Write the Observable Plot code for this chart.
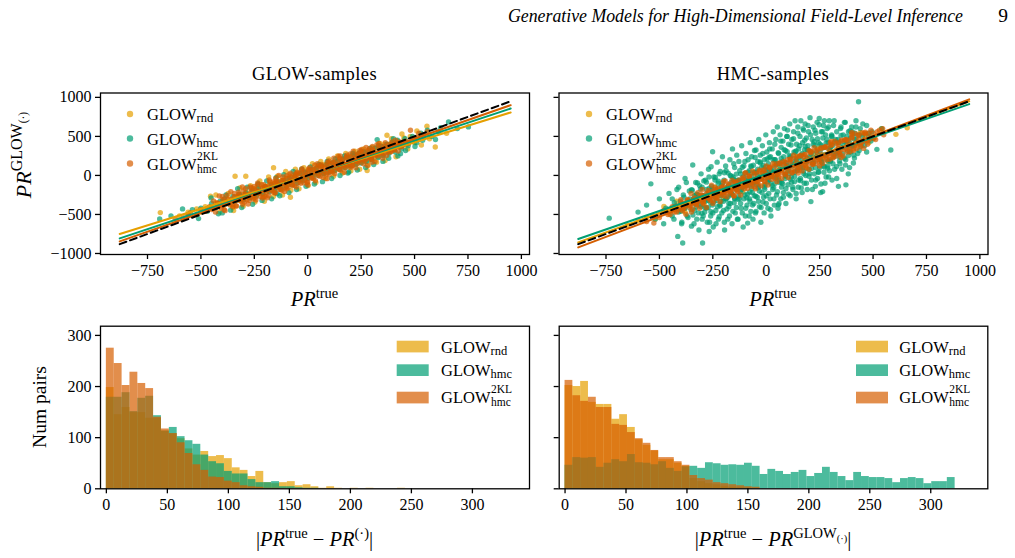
<!DOCTYPE html>
<html><head><meta charset="utf-8">
<script src="https://cdn.jsdelivr.net/npm/d3@7"></script>
<script src="https://cdn.jsdelivr.net/npm/@observablehq/plot@0.6"></script>
<style>
body{margin:0;background:#fff;}
#wrap{position:relative;width:1015px;height:558px;overflow:hidden;background:#fff;}
</style></head>
<body><div id="wrap"></div>
<script>
// ---------------- DATA ----------------
const seriesNames = ["GLOW_rnd","GLOW_hmc","GLOW_hmc^2KL"];
const colors = ["#E69F00","#009E73","#D55E00"];
const xTicksTop = [-750,-500,-250,0,250,500,750,1000];
const yTicksTop = [-1000,-500,0,500,1000];
const xTicksBot = [0,50,100,150,200,250,300];
const yTicksBot = [0,100,200,300];

// scatter: GLOW-samples panel  [PR_true, PR_GLOW]
const glowRnd = [[-690,-476],[-600,-520],[-560,-470],[-520,-430],[-500,-470],[-480,-400],[-455,-266],[-450,-420],[-430,-350],[-420,-400],[-400,-330],[-390,-380],[-370,-300],[-360,-340],[-347,-450],[-340,-10],[-330,-270],[-320,-320],[-310,-250],[-300,-300],[-290,-10],[-285,-220],[-270,-280],[-260,-200],[-250,-250],[-240,-160],[-230,-230],[-220,-170],[-210,-240],[-200,-140],[-190,-200],[-180,-120],[-170,-190],[-160,99],[-155,-100],[-150,-160],[-140,-80],[-130,-150],[-120,-60],[-110,-130],[-100,-40],[-90,-110],[-81,-279],[-80,-20],[-70,-90],[-60,10],[-50,-70],[-40,30],[-30,-50],[-20,40],[-10,-30],[0,60],[10,-10],[20,80],[30,10],[40,100],[50,20],[60,120],[70,30],[80,140],[90,40],[100,150],[110,60],[120,170],[130,70],[140,190],[150,90],[160,200],[170,100],[180,230],[190,120],[200,250],[210,130],[220,270],[230,150],[240,280],[250,170],[260,300],[270,180],[278,64],[280,310],[290,200],[300,330],[310,220],[320,350],[330,240],[340,380],[350,260],[360,400],[371,515],[380,300],[390,420],[400,330],[420,440],[430,360],[450,480],[460,390],[480,500],[500,420],[520,460],[540,520],[558,631],[570,470],[597,364],[620,560],[650,540],
 [-430,-250],[-412,-470],[-372,-230],[-351,-410],[-318,-160],[-302,-395],[-268,-130],[-247,-340],[-224,-70],[-203,-330],[-183,-20],[-161,-270],[-142,-10],[-118,-250],[-103,50],[-79,-190],[-58,80],[-41,-170],[-18,100],[2,-130],[22,150],[38,-90],[61,180],[83,-40],[98,210],[121,-10],[139,250],[163,30],[178,280],[202,60],[221,310],[243,80],[262,340],[283,130],[301,360],[322,170],[338,410],[362,190],[392,470],[413,240],[441,530],[468,340],[511,570],[532,390],[561,500]];
const glowHmc = [[-693,-557],[-640,-520],[-586,-429],[-560,-500],[-540,-440],[-511,-553],[-500,-420],[-470,-460],[-450,-360],[-430,-410],[-410,-330],[-400,-480],[-390,-300],[-370,-360],[-350,-270],[-340,-330],[-320,-240],[-300,-310],[-290,-220],[-270,-290],[-260,-190],[-240,-260],[-230,-170],[-210,-230],[-200,-150],[-180,-210],[-170,-120],[-155,-190],[-143,-236],[-140,-90],[-125,-170],[-110,-60],[-100,-140],[-85,-40],[-75,-120],[-60,-10],[-50,-100],[-35,20],[-25,-70],[-10,40],[0,-40],[15,70],[25,-20],[40,90],[50,0],[65,120],[75,20],[90,140],[100,40],[115,160],[125,60],[140,180],[150,80],[165,210],[175,100],[190,230],[192,43],[200,120],[215,260],[225,140],[240,280],[250,160],[265,300],[275,180],[290,320],[300,200],[315,350],[325,459],[330,230],[345,370],[355,250],[370,400],[380,280],[395,420],[410,300],[420,450],[434,279],[440,340],[455,470],[470,380],[490,500],[510,420],[530,540],[560,580],[580,500],[610,560],[659,686],[700,600],[752,622],
 [-452,-290],[-418,-490],[-383,-250],[-361,-445],[-328,-170],[-309,-410],[-283,-150],[-258,-370],[-233,-110],[-214,-320],[-192,-70],[-169,-300],[-148,-30],[-131,-260],[-112,10],[-88,-220],[-68,50],[-52,-180],[-29,80],[-8,-140],[12,110],[31,-110],[52,140],[69,-80],[91,180],[112,-40],[129,210],[151,0],[172,250],[188,30],[211,280],[232,70],[249,310],[271,100],[292,350],[309,140],[331,380],[352,180],[379,220],[401,470],[422,250],[458,320],[502,370],[538,450],[598,460],[622,610]];
const glowKL = [[-620,-560],[-580,-540],[-560,-505],[-550,-480],[-520,-500],[-500,-440],[-480,-460],[-470,-425],[-460,-400],[-440,-420],[-420,-360],[-410,-375],[-400,-390],[-385,-330],[-370,-350],[-355,-300],[-350,-320],[-350,-400],[-340,-330],[-325,-270],[-310,-300],[-300,-270],[-300,-200],[-295,-240],[-280,-270],[-270,-245],[-265,-210],[-250,-250],[-250,-140],[-240,-190],[-235,-210],[-228,-225],[-215,-160],[-205,-200],[-200,-180],[-200,-270],[-195,-140],[-185,-180],[-175,-120],[-170,-150],[-165,-160],[-155,-100],[-150,-40],[-145,-145],[-140,-125],[-135,-80],[-125,-125],[-115,-60],[-110,-95],[-105,-105],[-100,-170],[-95,-40],[-85,-85],[-80,-70],[-75,-20],[-65,-70],[-55,0],[-50,-40],[-50,40],[-45,-50],[-35,20],[-25,-30],[-20,-15],[-15,40],[-5,-10],[0,-80],[5,60],[10,10],[15,10],[25,70],[35,25],[40,35],[45,90],[50,120],[55,40],[65,110],[70,65],[75,55],[85,130],[95,70],[100,90],[100,10],[105,150],[115,85],[125,165],[130,120],[135,100],[145,185],[150,220],[155,115],[160,145],[165,200],[175,130],[185,220],[190,170],[195,150],[200,100],[205,240],[215,165],[220,200],[225,260],[235,185],[245,275],[250,230],[250,310],[255,200],[265,300],[275,215],[280,255],[285,320],[295,235],[300,170],[305,330],[310,285],[315,250],[330,350],[340,310],[345,280],[360,370],[370,340],[375,300],[390,400],[400,365],[405,330],[420,420],[430,395],[440,380],[460,440],[481,579],[500,470],[520,540],[540,500],[560,560],
 [-400,-270],[-391,-440],[-376,-300],[-364,-380],[-344,-230],[-336,-390],[-321,-240],[-313,-330],[-304,-370],[-291,-170],[-286,-310],[-273,-320],[-263,-160],[-254,-300],[-246,-280],[-233,-120],[-223,-270],[-212,-290],[-207,-120],[-193,-220],[-183,-260],[-177,-80],[-163,-210],[-153,-220],[-147,-70],[-133,-180],[-121,-190],[-117,-20],[-103,-150],[-93,-160],[-87,10],[-73,-120],[-62,-130],[-57,20],[-43,-90],[-33,-100],[-27,70],[-13,-60],[-3,-90],[3,80],[18,-30],[27,-40],[33,130],[48,0],[58,-10],[63,140],[77,30],[88,20],[93,170],[108,60],[117,50],[122,220],[138,90],[147,80],[152,250],[168,120],[177,100],[183,260],[198,150],[208,130],[213,310],[228,180],[237,160],[243,320],[258,210],[268,190],[273,360],[288,240],[297,220],[303,370],[318,270],[328,250],[333,410],[348,300],[357,280],[363,420],[378,330],[391,310],[411,450],[424,370],[451,400],[472,410],[489,440],[510,490],
 [-450,-436],[-441,-328],[-432,-470],[-423,-352],[-414,-264],[-405,-416],[-396,-308],[-387,-451],[-378,-253],[-369,-345],[-360,-207],[-351,-379],[-342,-271],[-333,-393],[-324,-215],[-315,-307],[-306,-149],[-297,-341],[-288,-243],[-279,-366],[-270,-148],[-261,-280],[-252,-172],[-243,-314],[-234,-96],[-225,-218],[-216,-120],[-207,-272],[-198,-144],[-189,-286],[-180,-58],[-171,-190],[-162,-83],[-153,-225],[-144,-107],[-135,1],[-126,-181],[-117,-63],[-108,-205],[-99,-7],[-90,-109],[-81,29],[-72,-123],[-63,-25],[-54,-148],[-45,30],[-36,-52],[-27,86],[-18,-96],[-9,12],[0,-120],[9,98],[18,-34],[27,74],[36,-68],[45,150],[54,28],[63,125],[72,-27],[81,101],[90,-41],[99,187],[108,55],[117,163],[126,21],[135,139],[144,247],[153,65],[162,183],[171,40],[180,238],[189,136],[198,274],[207,122],[216,220],[225,98],[234,276],[243,194],[252,332],[261,150],[270,258],[279,126],[288,343],[297,211],[306,319],[315,177],[324,395],[333,273],[342,371],[351,219],[360,347],[369,255],[378,393],[387,301],[396,428],[405,326],[414,404],[423,312],[432,430],[441,368],[450,426]];

// scatter: HMC-samples panel
const hmcRnd = [[-650,-640],[-600,-580],[-560,-540],[-520,-560],[-479,-398],[-460,-470],[-420,-400],[-380,-410],[-340,-320],[-300,-330],[-260,-230],[-220,-260],[-180,-140],[-140,-170],[-100,-60],[-60,-90],[-20,30],[20,-10],[60,110],[100,70],[140,190],[180,140],[220,280],[260,220],[300,360],[340,300],[380,440],[420,380],[460,520],[500,470],[540,600],[607,526],[660,610],
 [-420,-330],[-380,-470],[-330,-250],[-290,-380],[-240,-150],[-200,-300],[-150,-60],[-110,-210],[-60,40],[-10,-120],[40,150],[90,-10],[140,250],[190,90],[240,350],[290,180],[340,420],[390,300],[440,550],[480,420]];
const hmcHmc = [[-735,-547],[-600,-470],[-560,-380],[-540,-108],[-520,-560],[-500,-300],[-480,-620],[-470,-420],[-455,-230],[-440,-520],[-430,-350],[-414,-781],[-410,-150],[-400,-460],[-395,-600],[-391,-866],[-385,-280],[-380,-40],[-370,-520],[-365,-380],[-360,-200],[-350,-650],[-344,134],[-340,-300],[-335,-450],[-330,-90],[-325,-560],[-320,-250],[-315,-700],[-310,-380],[-305,20],[-300,-150],[-298,-866],[-295,-520],[-290,-320],[-285,-60],[-280,-420],[-275,-240],[-270,80],[-267,-718],[-265,-600],[-260,-350],[-258,112],[-255,-180],[-251,304],[-250,-480],[-245,-20],[-240,-280],[-235,-620],[-230,170],[-228,-400],[-225,-100],[-220,-530],[-215,50],[-212,-330],[-210,-220],[-205,240],[-200,-450],[-198,-60],[-195,-700],[-190,120],[-188,-300],[-185,-160],[-180,-560],[-178,30],[-175,-400],[-170,200],[-168,-250],[-165,-90],[-160,-620],[-158,340],[-155,-20],[-150,-350],[-148,100],[-145,-480],[-140,-180],[-138,260],[-135,-560],[-130,-60],[-128,180],[-125,-300],[-120,20],[-118,-420],[-115,380],[-110,-150],[-108,-660],[-105,120],[-100,-250],[-98,-520],[-95,280],[-92,-40],[-90,-380],[-87,-611],[-85,200],[-82,-120],[-80,60],[-78,-300],[-75,420],[-72,-460],[-70,-10],[-68,240],[-65,-220],[-62,-560],[-60,130],[-58,-360],[-55,320],[-52,-80],[-50,-480],[-48,326],[-45,40],[-42,-280],[-40,180],[-38,-160],[-35,460],[-32,-400],[-30,-20],[-28,260],[-25,-600],[-22,100],[-20,-220],[-18,380],[-15,-340],[-12,10],[-10,-480],[-8,200],[-5,-120],[-2,520],[0,-260],[3,300],[5,60],[8,-420],[10,150],[12,-60],[15,420],[18,-300],[20,240],[22,-520],[25,-10],[28,340],[30,-180],[33,560],[35,90],[38,-380],[40,200],[42,-100],[45,460],[48,-250],[50,30],[52,620],[55,-420],[57,-377],[58,280],[60,-60],[62,150],[65,520],[68,-300],[70,360],[72,-150],[75,80],[78,440],[80,-220],[82,240],[85,600],[88,-40],[90,320],[92,-360],[95,160],[98,500],[100,581],[102,-120],[105,400],[108,20],[110,660],[112,-260],[115,250],[118,-20],[120,460],[122,120],[125,-180],[128,560],[130,300],[132,-80],[135,700],[138,200],[140,-300],[142,400],[145,60],[148,620],[150,-150],[152,340],[155,150],[158,500],[160,-40],[162,700],[165,260],[168,-220],[170,420],[172,100],[175,580],[178,-100],[180,330],[182,660],[185,0],[188,480],[190,220],[192,-180],[195,380],[198,560],[200,80],[205,740],[209,-335],[210,300],[212,-60],[215,460],[218,160],[220,620],[225,20],[228,380],[230,-140],[232,540],[235,240],[238,680],[240,-40],[245,420],[248,730],[250,100],[252,300],[255,-220],[258,560],[260,180],[264,-207],[265,480],[268,640],[270,40],[272,360],[275,-100],[278,520],[280,260],[285,600],[288,120],[290,420],[292,-20],[295,700],[298,320],[300,180],[305,500],[308,-60],[310,380],[315,640],[318,240],[320,80],[325,460],[330,560],[335,300],[338,-140],[340,420],[345,150],[350,620],[355,360],[360,520],[365,220],[370,680],[373,-121],[375,440],[380,320],[385,560],[390,100],[395,480],[400,620],[405,380],[410,260],[415,540],[420,700],[425,420],[432,943],[435,320],[440,600],[450,500],[460,380],[470,640],[480,540],[490,440],[500,480],[518,334],[540,600],[583,326],
 [-440,-300],[-432,-560],[-425,-390],[-418,-180],[-410,-470],[-402,-330],[-396,-620],[-388,-250],[-380,-420],[-374,-90],[-366,-540],[-358,-300],[-352,-440],[-346,-190],[-338,-620],[-332,-360],[-326,-240],[-318,-480],[-312,-130],[-306,-400],[-300,-560],
 [-296,-260],[-292,-70],[-288,-470],[-284,-330],[-280,-180],[-276,-600],[-272,-410],[-268,-20],[-264,-280],[-260,-520],[-256,-140],[-252,-380],[-248,-660],[-244,-230],[-240,-60],[-236,-450],[-232,-320],[-228,-170],[-224,-560],[-220,20],[-216,-390],[-212,-260],[-208,-480],[-204,-100],[-200,-330],[-196,-600],[-192,-200],[-188,60],[-184,-430],[-180,-280],[-176,-130],[-172,-520],[-168,-360],[-164,-10],[-160,-240],[-156,-460],[-152,150],[-148,-300],[-144,-150],[-140,-410],[-136,-60],[-132,-560],[-128,-260],[-124,60],[-120,-360],[-116,-180],[-112,-480],[-108,-20],[-104,-300],[-100,180],
 [-96,-420],[-92,-130],[-88,-240],[-84,40],[-80,-520],[-76,-330],[-72,120],[-68,-170],[-64,-380],[-60,-60],[-56,-260],[-52,230],[-48,-460],[-44,-120],[-40,80],[-36,-330],[-32,-200],[-28,160],[-24,-410],[-20,-40],[-16,280],[-12,-280],[-8,-150],[-4,110],[0,-360],[4,210],[8,-80],[12,-230],[16,340],[20,-440],[24,60],[28,-130],[32,200],[36,-300],[40,400],[44,-30],[48,140],[52,-210],[56,290],[60,-360],[64,80],[68,440],[72,-90],[76,180],[80,-280],[84,330],[88,20],[92,-170],[96,500],[100,120],
 [104,-240],[108,250],[112,-50],[116,390],[120,160],[124,-150],[128,470],[132,40],[136,300],[140,-230],[144,200],[148,540],[152,-60],[156,380],[160,100],[164,-160],[168,280],[172,600],[176,20],[180,450],[184,180],[188,-100],[192,330],[196,640],[200,-10],[204,240],[208,520],[212,90],[216,-180],[220,400],[224,170],[228,580],[232,-60],[236,300],[240,470],[244,40],[248,650],[252,220],[256,-110],[260,380],[264,560],[268,120],[272,700],[276,270],[280,-20],[284,460],[288,190],[292,620],[296,60],[300,360],
 [306,520],[312,150],[318,700],[324,280],[330,-40],[336,460],[342,240],[348,600],[354,80],[360,380],[366,680],[372,200],[378,500],[384,20],[390,420],[396,300],[402,560],[408,160],[414,460],[420,620],[428,280],[436,520],[444,380],[452,660],[460,440],[470,300],[480,500],[495,560],
 [-350,-183],[-343,-506],[-336,-259],[-329,-403],[-322,-96],[-315,-329],[-308,-173],[-301,-486],[-294,-259],[-287,-413],[-280,-86],[-273,-319],[-266,-163],[-259,-466],[-252,-199],[-245,-343],[-238,-26],[-231,-229],[-224,-73],[-217,-376],[-210,-130],[-203,-243],[-196,34],[-189,-300],[-182,-163],[-175,-356],[-168,0],[-161,-233],[-154,-46],[-147,-290],[-140,17],[-133,-306],[-126,-60],[-119,-203],[-112,104],[-105,-130],[-98,27],[-91,-286],[-84,-60],[-77,-213],[-70,113],[-63,-120],[-56,37],[-49,-267],[-42,0],[-35,-143],[-28,173],[-21,-30],[-14,127],[-7,-177],[0,70],[7,-43],[14,233],[21,-100],[28,37],[35,-157],[42,200],[49,-33],[56,153],[63,-90],[70,217],[77,-107],[84,140],[91,-4],[98,303],[105,70],[112,226],[119,-87],[126,140],[133,-14],[140,313],[147,80],[154,236],[161,-67],[168,200],[175,56],[182,373],[189,170],[196,326],[203,23],[210,270],[217,156],[224,433],[231,99],[238,236],[245,43],[252,399],[259,166],[266,353],[273,109],[280,416],[287,93],[294,339],[301,196],[308,503],[315,269],[322,426],[329,113],[336,339],[343,186],[350,513],[357,279],[364,436],[371,132],[378,399],[385,256],[392,572],[399,369],[406,526],[413,222],[420,469]];
const hmcKL = [[-560,-590],[-530,-520],[-526,-611],[-500,-540],[-500,-500],[-480,-450],[-460,-500],[-450,-455],[-440,-420],[-420,-470],[-400,-370],[-400,-405],[-385,-420],[-370,-330],[-355,-390],[-350,-350],[-350,-470],[-340,-300],[-325,-360],[-310,-270],[-300,-300],[-300,-180],[-295,-330],[-280,-230],[-265,-300],[-260,-255],[-250,-200],[-250,-360],[-238,-280],[-225,-170],[-220,-220],[-212,-250],[-200,-140],[-200,-80],[-188,-220],[-180,-175],[-176,-110],[-164,-200],[-152,-90],[-150,-260],[-140,-180],[-140,-140],[-128,-60],[-116,-150],[-104,-30],[-100,-95],[-100,30],[-92,-130],[-80,0],[-68,-100],[-60,-60],[-56,20],[-50,-170],[-44,-80],[-32,50],[-20,-50],[-20,-15],[-8,70],[0,120],[4,-30],[16,100],[20,25],[28,-10],[40,120],[50,-80],[52,10],[60,60],[64,150],[76,30],[88,170],[100,50],[100,105],[100,200],[112,200],[124,80],[136,220],[140,140],[148,100],[150,30],[160,250],[172,120],[180,185],[184,270],[196,150],[200,320],[208,290],[220,170],[220,220],[232,320],[244,200],[250,120],[256,340],[260,265],[268,220],[280,370],[292,250],[300,300],[300,420],[304,390],[316,280],[328,410],[340,300],[340,345],[350,230],[352,440],[364,330],[376,460],[380,385],[388,350],[400,490],[400,550],[415,390],[420,420],[430,520],[445,420],[460,540],[460,465],[475,450],[490,581],[505,480],[520,560],[550,520],
 [-450,-500],[-440,-400],[-430,-470],[-420,-395],[-410,-440],[-398,-350],[-390,-430],[-378,-380],[-366,-320],[-358,-410],[-346,-360],[-334,-290],[-326,-380],[-314,-330],[-302,-250],[-294,-350],[-282,-290],[-270,-220],[-262,-320],[-250,-260],[-238,-180],[-230,-290],[-218,-230],[-206,-150],[-198,-260],[-186,-200],[-174,-120],[-166,-230],[-154,-170],[-142,-80],[-134,-200],[-122,-140],[-110,-50],[-102,-170],[-90,-110],[-78,-10],[-70,-140],[-58,-80],[-46,30],[-38,-110],[-26,-50],[-14,70],[-6,-80],[6,-20],[18,110],[26,-50],[38,20],[50,150],[58,-20],[70,60],[82,180],[90,10],[102,100],[114,210],[122,40],[134,130],[146,240],[154,70],[166,160],[178,270],[186,100],[198,190],[210,300],[218,140],[230,220],[242,330],[250,170],[262,250],[274,360],[282,200],[294,280],[306,390],[314,240],[326,320],[338,420],[346,270],[358,350],[370,450],[378,300],[390,380],[402,480],[410,340],[422,410],[434,510],[442,370],[454,440],[466,530],[474,400],[486,470],[500,540],[512,460],[530,580],[545,600],
 [-400,-310],[-392,-452],[-384,-354],[-376,-496],[-368,-308],[-360,-380],[-352,-232],[-344,-434],[-336,-326],[-328,-368],[-320,-220],[-312,-422],[-304,-254],[-296,-366],[-288,-268],[-280,-410],[-272,-192],[-264,-294],[-256,-126],[-248,-328],[-240,-150],[-232,-292],[-224,-194],[-216,-336],[-208,-148],[-200,-220],[-192,-72],[-184,-274],[-176,-166],[-168,-208],[-160,-60],[-152,-262],[-144,-94],[-136,-206],[-128,-108],[-120,-250],[-112,-32],[-104,-134],[-96,34],[-88,-168],[-80,-20],[-72,-92],[-64,56],[-56,-146],[-48,-38],[-40,-80],[-32,68],[-24,-134],[-16,34],[-8,-78],[0,20],[8,-122],[16,96],[24,-6],[32,152],[40,-40],[48,58],[56,16],[64,164],[72,-38],[80,130],[88,18],[96,116],[104,-26],[112,172],[120,30],[128,258],[136,56],[144,164],[152,112],[160,260],[168,58],[176,236],[184,124],[192,222],[200,80],[208,308],[216,146],[224,354],[232,152],[240,270],[248,208],[256,356],[264,154],[272,362],[280,250],[288,348],[296,206],[304,434],[312,222],[320,440],[328,248],[336,366],[344,304],[352,452],[360,250],[368,458],[376,346],[384,444],[392,302],[400,530],[408,318],[416,536],[424,344],[432,462],[440,400],[448,548],[456,346],[464,554],[472,442],[480,540]];

// linear fits (evaluated at the two ends of PR_true)
const fitX = [-880, 950];
const glowFits = [[-750, 807], [-807, 858], [-845, 900]];
const hmcFits  = [[-858, 950], [-815, 914], [-922, 974]];

// histograms of |PR_true - PR|  (50 equal bins)
const binWLeft = 6.45, binWRight = 6.4;
const glowRndCounts = [198,145,159,149,149,138,138,113,108,98,78,66,73,63,65,59,41,36,24,34,12,10,12,14,6,8,4,1,4,1,0,1,0,1,0,0,0,1];
const glowHmcCounts = [179,179,188,151,177,181,143,113,120,102,94,87,66,53,49,34,29,29,18,12,12,14,4,4,2,1,1];
const glowKLCounts  = [275,245,202,228,206,196,140,117,108,90,69,47,36,23,22,15,12,6,4,3,1,1];
const hmcRndCounts = [202,200,210,169,165,165,136,145,120,96,85,74,57,57,50,44,20,14,10,8,5,3,2,1];
const hmcHmcCounts = [46,61,60,61,42,50,57,53,67,51,50,47,53,40,34,43,44,40,51,49,46,47,46,50,44,28,38,34,28,32,36,24,30,42,32,24,16,32,24,22,22,20,12,20,22,20,10,14,14,22];
const hmcKLCounts  = [212,182,171,179,159,159,126,124,110,98,89,75,61,61,53,46,26,20,17,12,10,8,6,4,3];

// ---------------- LAYOUT ----------------
const W = 1015, H = 558;
const FONT = "'Liberation Serif', 'DejaVu Serif', serif";
const TL = {l:100, r:529, t:92.5, b:254}, TR = {l:558.5, r:987.5, t:92.5, b:254};
const BL = {l:100, r:529, t:325.7, b:488.3}, BR = {l:558.7, r:987.3, t:325.7, b:488.3};
const fmt = d => d < 0 ? "\u2212" + Math.abs(d) : String(d);
const TICKFS = 16;

function panel(f, xdom, ydom, xt, yt, showY, marks){
  return Plot.plot({
    width: W, height: H,
    marginLeft: f.l, marginRight: W - f.r, marginTop: f.t, marginBottom: H - f.b,
    x: {domain: xdom}, y: {domain: ydom},
    style: {position:"absolute", left:"0px", top:"0px", background:"transparent", fontFamily: FONT, fontSize: TICKFS + "px", color:"#000", overflow:"visible"},
    marks: [
      ...marks,
      Plot.frame({stroke:"#000", strokeWidth:1.3}),
      Plot.axisX({ticks: xt, tickFormat: fmt, tickSize:5, tickPadding:5, strokeWidth:1.3, label:null, fontSize:TICKFS}),
      Plot.axisY({ticks: yt, tickFormat: showY ? fmt : () => "", tickSize:5, tickPadding:4, strokeWidth:1.3, label:null, fontSize:TICKFS})
    ]
  });
}
const toPts = arr => arr.map(([x,y]) => ({x,y}));
function scatterMarks(sets, fits){
  const m = [];
  sets.forEach((s,i) => m.push(Plot.dot(toPts(s), {x:"x", y:"y", r:2.7, fill:colors[i], fillOpacity:0.7, stroke:null})));
  fits.forEach((f,i) => m.push(Plot.line(fitX.map((x,j)=>({x, y:f[j]})), {x:"x", y:"y", stroke:colors[i], strokeWidth:2})));
  m.push(Plot.line(fitX.map(x=>({x, y:x})), {x:"x", y:"y", stroke:"#000", strokeWidth:2, strokeDasharray:"7,4"}));
  return m;
}
function histMarks(countSets, bw){
  return countSets.map((c,i) => Plot.rectY(c.map((v,k)=>({x1:k*bw, x2:(k+1)*bw, y:v})),
    {x1:"x1", x2:"x2", y:"y", fill:colors[i], fillOpacity:0.7, inset:0}));
}

const wrap = document.getElementById("wrap");
const xTop = [-970, 1038], yTop = [-1013, 1056], xBot = [-4.8, 346.8], yBot = [0, 318];
wrap.append(panel(TL, xTop, yTop, xTicksTop, yTicksTop, true, scatterMarks([glowRnd, glowHmc, glowKL], glowFits)));
wrap.append(panel(TR, xTop, yTop, xTicksTop, yTicksTop, false, scatterMarks([hmcRnd, hmcHmc, hmcKL], hmcFits)));
wrap.append(panel(BL, xBot, yBot, xTicksBot, yTicksBot, true, histMarks([glowRndCounts, glowHmcCounts, glowKLCounts], binWLeft)));
wrap.append(panel(BR, xBot, yBot, xTicksBot, yTicksBot, false, histMarks([hmcRndCounts, hmcHmcCounts, hmcKLCounts], binWRight)));

// ---------------- TEXT OVERLAY ----------------
const svg = d3.select(wrap).append("svg").attr("width", W).attr("height", H)
  .style("position","absolute").style("left","0px").style("top","0px")
  .attr("font-family", FONT).attr("fill", "#000");

function text(x, y, parts, size, opts = {}){
  const t = svg.append("text").attr("x", x).attr("y", y).attr("font-size", size)
    .attr("text-anchor", opts.anchor || "start");
  if (opts.rotate) t.attr("transform", `rotate(-90 ${x} ${y})`);
  if (opts.italic) t.attr("font-style", "italic");
  if (opts.ls) t.attr("letter-spacing", opts.ls);
  if (opts.len) t.attr("textLength", opts.len).attr("lengthAdjust", "spacingAndGlyphs");
  let shift = 0;
  parts.forEach(p => {
    const s = typeof p === "string" ? {t:p} : p;
    const target = s.dy || 0;
    const ts = t.append("tspan").text(s.t).attr("dy", target - shift);
    shift = target;
    if (s.size) ts.attr("font-size", s.size);
    if (s.it) ts.attr("font-style", "italic");
  });
  return t;
}
// header
text(963, 22, ["Generative Models for High-Dimensional Field-Level Inference"], 19, {anchor:"end", italic:true, len:455});
text(1003, 22, ["9"], 19.5, {anchor:"middle"});
// titles
text((TL.l+TL.r)/2, 80, ["GLOW-samples"], 18.5, {anchor:"middle", ls:0.4});
text((TR.l+TR.r)/2, 80, ["HMC-samples"], 18.5, {anchor:"middle", ls:0.4});
// axis labels
text(31, 155, [{t:"PR", it:true}, {t:"GLOW", size:16, dy:-9}, {t:"(\u00b7)", size:11.5, dy:-4}], 22, {anchor:"middle", rotate:true});
[TL, TR].forEach(f => text((f.l+f.r)/2, 306, [{t:"PR", it:true}, {t:"true", size:14.5, dy:-8}], 20.5, {anchor:"middle"}));
text(46, 407, ["Num pairs"], 19.5, {anchor:"middle", rotate:true});
text((BL.l+BL.r)/2, 546, ["|", {t:"PR", it:true}, {t:"true", size:14.5, dy:-8}, {t:" \u2212 ", dy:0}, {t:"PR", it:true}, {t:"(\u00b7)", size:14.5, dy:-8}, {t:"|", dy:0}], 20.5, {anchor:"middle"});
text((BR.l+BR.r)/2, 546, ["|", {t:"PR", it:true}, {t:"true", size:14.5, dy:-8}, {t:" \u2212 ", dy:0}, {t:"PR", it:true}, {t:"GLOW", size:14.5, dy:-8}, {t:"(\u00b7)", size:10.5, dy:-4}, {t:"|", dy:0}], 20.5, {anchor:"middle"});

// legends
const legSubs = ["rnd", "hmc", "hmc"];
function legendLabel(x, y, i){
  const t = svg.append("text").attr("x", x).attr("y", y).attr("font-size", 16.5);
  const g = t.append("tspan").text("GLOW");
  const w = g.node().getComputedTextLength();
  if (i === 2){
    t.append("tspan").attr("x", x + w + 0.5).attr("dy", -10).attr("font-size", 11.5).text("2KL");
    t.append("tspan").attr("x", x + w + 0.5).attr("dy", 13).attr("font-size", 11.5).text("hmc");
  } else {
    t.append("tspan").attr("dy", 2).attr("font-size", 12.5).text(legSubs[i]);
  }
}
const scatterRows = [120, 144.5, 169.5];
[[130, 147], [589, 606]].forEach(([mx, tx]) => {
  scatterRows.forEach((y, i) => {
    svg.append("circle").attr("cx", mx).attr("cy", y - 6).attr("r", 3.2).attr("fill", colors[i]).attr("fill-opacity", 0.7);
    legendLabel(tx, y, i);
  });
});
const histRows = [[340.7, 353], [364.3, 376.3], [391.7, 403]];
[[396.7, 441], [856, 899.3]].forEach(([px, tx]) => {
  histRows.forEach(([py, by], i) => {
    svg.append("rect").attr("x", px).attr("y", py).attr("width", 32).attr("height", 11.7).attr("fill", colors[i]).attr("fill-opacity", 0.7);
    legendLabel(tx, by, i);
  });
});
</script>
</body></html>
